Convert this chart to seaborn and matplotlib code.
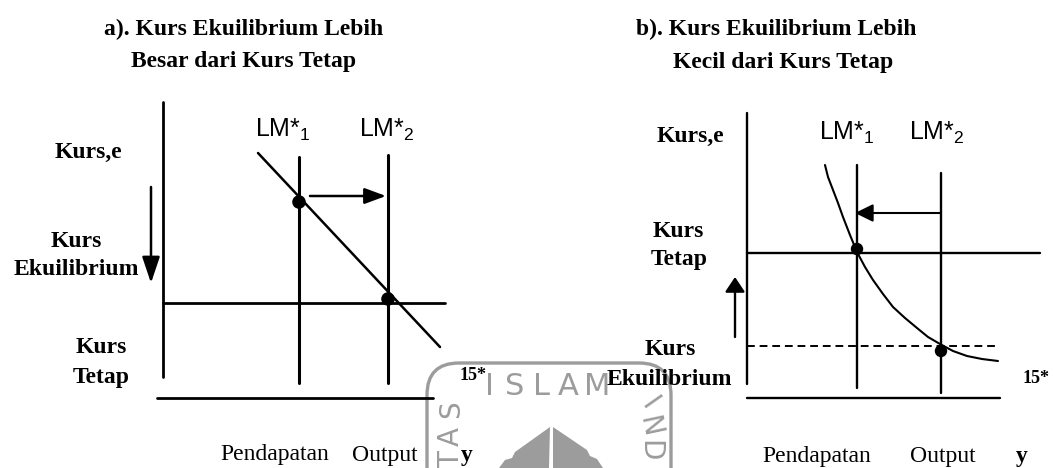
"""
Kurs tetap vs kurs ekuilibrium: two LM* shift diagrams side by side.
Everything is drawn on one full-figure axes in picture units (x right, y down).
"""
import matplotlib.pyplot as plt
import seaborn as sns
from matplotlib.patches import FancyBboxPatch, Polygon

W, H = 1053, 468

# ---- panel a: equilibrium rate above fixed rate
A_AXIS_X = [163, 163]
A_AXIS_Y = [102, 377]
A_BASE_X = [157, 433]
A_BASE_Y = [398, 398]
A_FIXED_X = [163, 445]
A_FIXED_Y = [303, 303]
A_LM_X = [299, 388]
A_LM_TOP = [157, 155]
A_LM_BOTTOM = [383, 383]
A_IS_X = [258, 440]
A_IS_Y = [153, 347]
A_EQ_X = [299, 388]
A_EQ_Y = [202, 299]
A_SHIFT_X = [310, 386]
A_SHIFT_Y = [196, 196]
A_DROP_X = [151, 151]
A_DROP_Y = [187, 283]

# ---- panel b: equilibrium rate below fixed rate
B_AXIS_X = [747, 747]
B_AXIS_Y = [113, 384]
B_BASE_X = [747, 1000]
B_BASE_Y = [398, 398]
B_FIXED_X = [747, 1040]
B_FIXED_Y = [253, 253]
B_EQUIL_X = [747, 995]
B_EQUIL_Y = [346, 346]
B_LM_X = [857, 941]
B_LM_TOP = [165, 173]
B_LM_BOTTOM = [388, 393]
B_IS_X = [825, 828, 833, 838, 843, 850, 857, 865, 873, 883, 893, 905,
          917, 928, 940, 953, 967, 982, 998]
B_IS_Y = [165, 177, 190, 203, 217, 235, 252, 267, 280, 294, 307, 318,
          328, 337, 344, 351, 356, 359, 361]
B_EQ_X = [857, 941]
B_EQ_Y = [249, 351]
B_SHIFT_X = [941, 855]
B_SHIFT_Y = [213, 213]
B_RISE_X = [735, 735]
B_RISE_Y = [337, 277]

TITLES = {
    "a": ["a). Kurs Ekuilibrium Lebih", "Besar dari Kurs Tetap"],
    "b": ["b). Kurs Ekuilibrium Lebih", "Kecil dari Kurs Tetap"],
}
LM_LABELS = [r"LM*$_{\mathregular{1}}$", r"LM*$_{\mathregular{2}}$"]

sns.set_theme(style="white")
plt.rcParams["font.family"] = ["Liberation Serif", "DejaVu Serif"]
plt.rcParams["mathtext.fontset"] = "custom"
plt.rcParams["mathtext.rm"] = "Liberation Sans"

INK = "black"
WM = "#9c9c9c"


def seg(ax, x, y, lw=2.0, **kw):
    sns.lineplot(x=x, y=y, ax=ax, estimator=None, sort=False,
                 color=INK, lw=lw, legend=False, **kw)


def arrow(ax, x, y, hl, hw, lw=1.8):
    ax.annotate("", xy=(x[1], y[1]), xytext=(x[0], y[0]),
                arrowprops=dict(arrowstyle=f"-|>,head_length={hl},head_width={hw}",
                                color=INK, lw=lw, mutation_scale=20,
                                shrinkA=0, shrinkB=0))


def label(ax, x, y, s, size=17, weight="bold", **kw):
    ax.text(x, y, s, ha="center", va="baseline", fontsize=size,
            fontweight=weight, color=INK, **kw)


fig = plt.figure(figsize=(W / 100, H / 100), dpi=100)
ax = fig.add_axes([0, 0, 1, 1])
ax.set_xlim(0, W)
ax.set_ylim(H, 0)
ax.axis("off")

# ---- watermark of the scanned page (university logo)
ax.add_patch(FancyBboxPatch((427, 363), 244, 160,
                            boxstyle="round,pad=0,rounding_size=32",
                            fill=False, ec=WM, lw=2.4, zorder=0))
for ch, xx in zip("ISLAM", [489, 515, 542, 568, 597]):
    ax.text(xx, 395, ch, ha="center", va="baseline", fontsize=22,
            color=WM, family="DejaVu Sans", zorder=0)
for ch, yy in zip("SAT", [409, 436, 460]):
    ax.text(451, yy, ch, ha="center", va="center", rotation=90,
            fontsize=20, color=WM, family="DejaVu Sans", zorder=0)
for ch, yy, rot in zip("IND", [404, 426, 451], [-55, -78, -90]):
    ax.text(649, yy, ch, ha="center", va="center", rotation=rot,
            fontsize=20, color=WM, family="DejaVu Sans", zorder=0)
ax.add_patch(Polygon([(550, 427), (515, 452), (512, 458), (505, 460),
                      (499, 468), (549, 468)], color=WM, lw=0, zorder=0))
ax.add_patch(Polygon([(553, 427), (587, 450), (590, 456), (597, 459),
                      (603, 468), (553, 468)], color=WM, lw=0, zorder=0))

# ---- panel a
seg(ax, A_AXIS_X, A_AXIS_Y, lw=2.0)
seg(ax, A_BASE_X, A_BASE_Y, lw=2.0)
seg(ax, A_FIXED_X, A_FIXED_Y, lw=2.0)
for x, top, bot in zip(A_LM_X, A_LM_TOP, A_LM_BOTTOM):
    seg(ax, [x, x], [top, bot], lw=2.2)
seg(ax, A_IS_X, A_IS_Y, lw=1.8)
sns.scatterplot(x=A_EQ_X, y=A_EQ_Y, ax=ax, s=95, color=INK,
                edgecolor="none", zorder=5, legend=False)
arrow(ax, A_SHIFT_X, A_SHIFT_Y, 0.65, 0.24)
arrow(ax, A_DROP_X, A_DROP_Y, 0.8, 0.27)

for s, y in zip(TITLES["a"], [35, 67]):
    label(ax, 244, y, s)
label(ax, 88, 158, "Kurs,e")
label(ax, 76, 247, "Kurs")
label(ax, 76, 275, "Ekuilibrium")
label(ax, 101, 353, "Kurs")
label(ax, 101, 383, "Tetap")
label(ax, 473, 380, "15*", size=13)
label(ax, 275, 460, "Pendapatan", size=17, weight="normal")
label(ax, 385, 461, "Output", size=17, weight="normal")
label(ax, 467, 461, "y", size=17)
for s, x in zip(LM_LABELS, [283, 387]):
    ax.text(x, 137, s, ha="center", va="baseline", fontsize=18,
            family="Liberation Sans", color=INK)

# ---- panel b
seg(ax, B_AXIS_X, B_AXIS_Y, lw=1.7)
seg(ax, B_BASE_X, B_BASE_Y, lw=1.7)
seg(ax, B_FIXED_X, B_FIXED_Y, lw=1.7)
seg(ax, B_EQUIL_X, B_EQUIL_Y, lw=1.4, dashes=(4, 2.5))
for x, top, bot in zip(B_LM_X, B_LM_TOP, B_LM_BOTTOM):
    seg(ax, [x, x], [top, bot], lw=1.7)
seg(ax, B_IS_X, B_IS_Y, lw=1.5)
sns.scatterplot(x=B_EQ_X, y=B_EQ_Y, ax=ax, s=80, color=INK,
                edgecolor="none", zorder=5, legend=False)
arrow(ax, B_SHIFT_X, B_SHIFT_Y, 0.55, 0.27, lw=1.5)
arrow(ax, B_RISE_X, B_RISE_Y, 0.45, 0.3, lw=1.7)

label(ax, 776, 35, TITLES["b"][0])
label(ax, 783, 68, TITLES["b"][1])
label(ax, 690, 142, "Kurs,e")
label(ax, 678, 237, "Kurs")
label(ax, 679, 265, "Tetap")
label(ax, 670, 355, "Kurs")
label(ax, 669, 385, "Ekuilibrium")
label(ax, 1036, 383, "15*", size=13)
label(ax, 817, 462, "Pendapatan", size=17, weight="normal")
label(ax, 943, 462, "Output", size=17, weight="normal")
label(ax, 1022, 462, "y", size=17)
for s, x in zip(LM_LABELS, [847, 937]):
    ax.text(x, 140, s, ha="center", va="baseline", fontsize=18,
            family="Liberation Sans", color=INK)

fig.savefig("out.png", dpi=100)
plt.close(fig)
